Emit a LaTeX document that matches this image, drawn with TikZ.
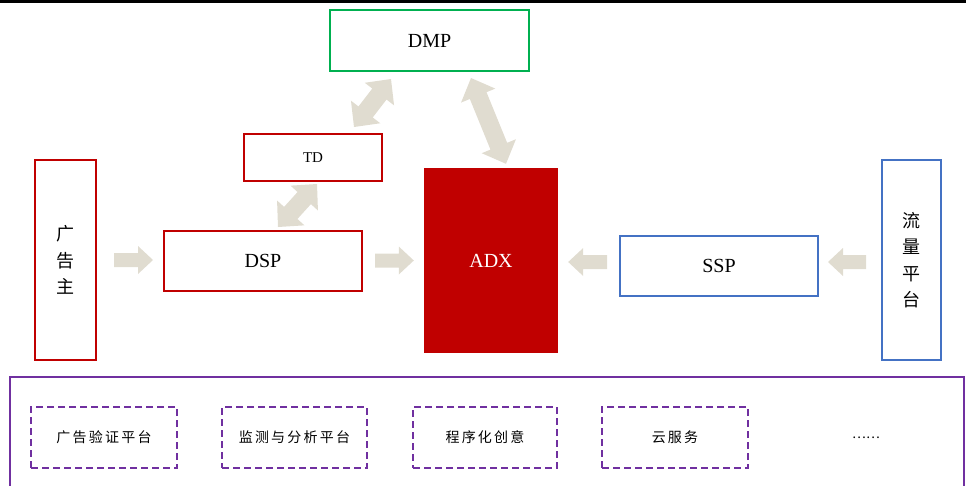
\documentclass[tikz,border=0pt]{standalone}
\usepackage{fontspec}
\setmainfont{Liberation Serif}
\newfontfamily\cjk{Noto Sans CJK SC}
\newfontfamily\cjksp[LetterSpace=16]{Noto Sans CJK SC}
\usetikzlibrary{calc}
\definecolor{rd}{HTML}{C00000}
\definecolor{gn}{HTML}{00B050}
\definecolor{bl}{HTML}{4472C4}
\definecolor{pp}{HTML}{7030A0}
\definecolor{ac}{HTML}{E0DCD0}
\def\sw{7pt}\def\hw{14pt}\def\hl{15pt}
% single block arrow from #1 (tail) to #2 (tip)
\newcommand\sarrow[2]{%
  \coordinate (sC) at ($(#2)!\hl!(#1)$);
  \fill[ac] ($(#1)!\sw!90:(#2)$) -- ($(sC)!\sw!90:(#2)$) -- ($(sC)!\hw!90:(#2)$) -- (#2)
    -- ($(sC)!\hw!-90:(#2)$) -- ($(sC)!\sw!-90:(#2)$) -- ($(#1)!\sw!-90:(#2)$) -- cycle;}
% double block arrow between #1 and #2
\newcommand\darrow[2]{%
  \coordinate (dA) at ($(#1)!\hl!(#2)$);
  \coordinate (dB) at ($(#2)!\hl!(#1)$);
  \fill[ac] (#1) -- ($(dA)!\hw!-90:(#2)$) -- ($(dA)!\sw!-90:(#2)$) -- ($(dB)!\sw!90:(#1)$)
    -- ($(dB)!\hw!90:(#1)$) -- (#2) -- ($(dB)!\hw!-90:(#1)$) -- ($(dB)!\sw!-90:(#1)$)
    -- ($(dA)!\sw!90:(#2)$) -- ($(dA)!\hw!90:(#2)$) -- cycle;}
\begin{document}
\begin{tikzpicture}[x=1pt,y=-1pt,
  bx/.style={draw=#1, line width=2pt, fill=white, inner sep=0pt},
  big/.style={font=\fontsize{20}{23}\selectfont},
  vert/.style={align=center, font=\cjk\fontsize{18}{26.5}\selectfont},
  dbox/.style={draw=pp, line width=2.5pt, dash pattern=on 7pt off 4pt, inner sep=0pt,
    minimum height=61pt, font=\cjksp\fontsize{14}{16}\selectfont},
]
\useasboundingbox (0,0) rectangle (966,485);
\fill[black] (0,0) rectangle (966,2.5);

\node[bx=gn, minimum width=199pt, minimum height=61pt, big] (dmp) at (429.5,40.5) {DMP};
\node[bx=rd, minimum width=138pt, minimum height=47pt, font=\fontsize{15}{18}\selectfont] (td) at (313,157.5) {TD};
\node[bx=rd, minimum width=61pt, minimum height=200pt, vert] (adv) at (65.5,260) {广\\告\\主};
\node[bx=rd, minimum width=198pt, minimum height=60pt, big] (dsp) at (263,261) {DSP};
\node[fill=rd, inner sep=0pt, minimum width=134pt, minimum height=185pt, text=white, big] (adx) at (491,260.5) {ADX};
\node[bx=bl, minimum width=198pt, minimum height=60pt, big] (ssp) at (719,266) {SSP};
\node[bx=bl, minimum width=59pt, minimum height=200pt, vert] (flow) at (911.5,260) {流\\量\\平\\台};

\node[draw=pp, line width=2pt, inner sep=0pt, minimum width=954pt, minimum height=130pt] (svc) at (487,442) {};
\node[dbox, minimum width=146pt] (b1) at (104,437.5) {广告验证平台};
\node[dbox, minimum width=145pt] (b2) at (294.5,437.5) {监测与分析平台};
\node[dbox, minimum width=144pt] (b3) at (485,437.5) {程序化创意};
\node[dbox, minimum width=146pt] (b4) at (675,437.5) {云服务};
\node[font=\cjk\fontsize{13}{15}\selectfont] (more) at (866,438) {……};

% horizontal block arrows
\coordinate (a1t) at ($(adv.east)+(17,0)$);
\coordinate (a1h) at ($(adv.east -| dsp.west)+(-10,0)$);
\coordinate (a2t) at ($(dsp.east)+(12,-0.5)$);
\coordinate (a2h) at ($(dsp.east -| adx.west)+(-10,-0.5)$);
\coordinate (a3t) at ($(ssp.west)+(-12,-4)$);
\coordinate (a3h) at ($(ssp.west -| adx.east)+(10,-4)$);
\coordinate (a4t) at ($(flow.west)+(-15,2)$);
\coordinate (a4h) at ($(ssp.east)+(9,-4)$);
\sarrow{a1t}{a1h}
\sarrow{a2t}{a2h}
\sarrow{a3t}{a3h}
\sarrow{a4t}{a4h}

% double block arrows
\def\sw{9pt}\def\hw{18.5pt}\def\hl{19pt}
\coordinate (d1a) at ($(dsp.north)+(15,-3)$);
\coordinate (d1b) at ($(td.south)+(4,2)$);
\coordinate (d2a) at ($(td.north)+(41,-6)$);
\coordinate (d2b) at ($(dmp.south)+(-38.5,7)$);
\coordinate (d3a) at ($(dmp.south)+(41.5,6)$);
\coordinate (d3b) at ($(adx.north)+(15,-4)$);
\darrow{d1a}{d1b}
\darrow{d2a}{d2b}
\darrow{d3a}{d3b}
\end{tikzpicture}
\end{document}
